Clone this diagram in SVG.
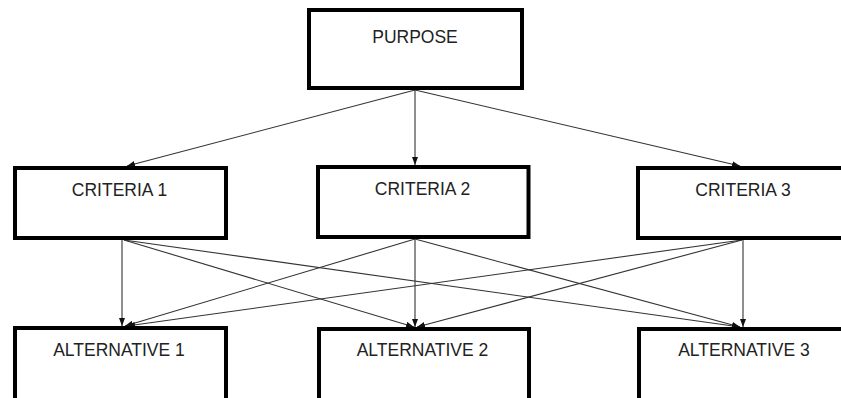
<svg xmlns="http://www.w3.org/2000/svg" width="841" height="398" viewBox="0 0 841 398">
<defs>
<style>
.box{fill:#fff;stroke:#000;stroke-width:4}
.lbl{font-family:"Liberation Sans","Open Sans",Arial,sans-serif;font-size:17.5px;fill:#222;text-anchor:middle}
.cn{stroke:#333;stroke-width:1.1;fill:none;marker-end:url(#ah)}
</style>
<marker id="ah" markerUnits="userSpaceOnUse" markerWidth="8" markerHeight="6" refX="8" refY="3" orient="auto">
<path d="M0,0 L8,3 L0,6 z" fill="#111"/>
</marker>
</defs>
<rect width="841" height="398" fill="#fff"/>
<g id="connectors">
<line class="cn" x1="415" y1="90" x2="127" y2="166"/>
<line class="cn" x1="415" y1="90" x2="415" y2="165"/>
<line class="cn" x1="415" y1="90" x2="740" y2="166"/>
<line class="cn" x1="122" y1="240" x2="122" y2="326"/>
<line class="cn" x1="124" y1="240" x2="414" y2="327"/>
<line class="cn" x1="124" y1="240" x2="740" y2="327"/>
<line class="cn" x1="415" y1="239" x2="125" y2="326"/>
<line class="cn" x1="415" y1="239" x2="415" y2="327"/>
<line class="cn" x1="415" y1="239" x2="740" y2="327"/>
<line class="cn" x1="742" y1="240" x2="127" y2="326"/>
<line class="cn" x1="742" y1="240" x2="417" y2="327"/>
<line class="cn" x1="743" y1="240" x2="743" y2="327"/>
</g>
<g id="purpose">
<rect class="box" x="309" y="10" width="213" height="78"/>
<text class="lbl" x="415" y="43">PURPOSE</text>
</g>
<g id="criteria1">
<rect class="box" x="15" y="168" width="211" height="70"/>
<text class="lbl" x="119.5" y="196">CRITERIA 1</text>
</g>
<g id="criteria2">
<rect class="box" x="318" y="167" width="210.5" height="70"/>
<text class="lbl" x="422.5" y="195">CRITERIA 2</text>
</g>
<g id="criteria3">
<rect class="box" x="638" y="168" width="210" height="70"/>
<text class="lbl" x="743" y="196">CRITERIA 3</text>
</g>
<g id="alternative1">
<rect class="box" x="15" y="328" width="211" height="80"/>
<text class="lbl" x="119" y="356">ALTERNATIVE 1</text>
</g>
<g id="alternative2">
<rect class="box" x="319" y="329" width="210" height="80"/>
<text class="lbl" x="422.5" y="356">ALTERNATIVE 2</text>
</g>
<g id="alternative3">
<rect class="box" x="639" y="329" width="210" height="80"/>
<text class="lbl" x="744" y="356">ALTERNATIVE 3</text>
</g>
</svg>
